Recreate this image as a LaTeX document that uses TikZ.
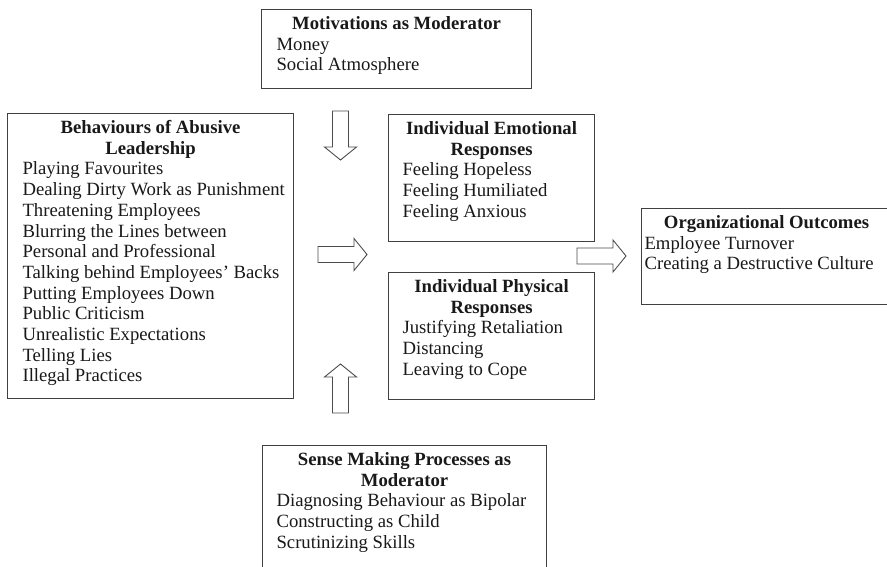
\documentclass[tikz,border=0pt]{standalone}
\usepackage{fontspec}
\setmainfont{Liberation Serif}
\usetikzlibrary{positioning}

\tikzset{
  box/.style={draw=black!75, line width=1.1pt, anchor=north west, inner ysep=4.5pt, text=black!90},
  fatarrow/.pic={
    \draw[draw=black!70, line width=0.9pt, fill=white]
      (0,-8) -- (36,-8) -- (36,-16) -- (49,0) -- (36,16) -- (36,8) -- (0,8) -- cycle;
  },
}
% [indent]{width}{height}{title}{items}
\newcommand{\boxbody}[5][0pt]{\parbox[t][#3][t]{#2}{\fontsize{18.7}{20.7}\selectfont
  {\centering\bfseries\rule{0pt}{15.5pt}#4\par}{\leftskip=#1 #5\par}}}

\begin{document}
\begin{tikzpicture}[x=1pt, y=-1pt]
  \useasboundingbox (0,0) rectangle (887,567);
  \clip (0,0) rectangle (887,567);
  \fill[white] (0,0) rectangle (887,567);

  % boxes
  \node[box, inner xsep=15pt] (motivation) at (261,9)
    {\boxbody{240pt}{70pt}{Motivations as Moderator}{Money\\Social Atmosphere}};
  \node[box, inner xsep=8pt] (abuse) at (7,113)
    {\boxbody[7pt]{270pt}{276pt}{Behaviours of Abusive\\Leadership}{Playing Favourites\\Dealing Dirty Work as Punishment\\Threatening Employees\\Blurring the Lines between\\Personal and Professional\\Talking behind Employees' Backs\\Putting Employees Down\\Public Criticism\\Unrealistic Expectations\\Telling Lies\\Illegal Practices}};
  \node[box, inner xsep=14pt] (emotional) at (388,114)
    {\boxbody{178pt}{118pt}{Individual Emotional\\Responses}{Feeling Hopeless\\Feeling Humiliated\\Feeling Anxious}};
  \node[box, inner xsep=14pt] (physical) at (388,272)
    {\boxbody{178pt}{118pt}{Individual Physical\\Responses}{Justifying Retaliation\\Distancing\\Leaving to Cope}};
  \node[box, inner xsep=3pt] (outcomes) at (641,208)
    {\boxbody{244pt}{87pt}{Organizational Outcomes}{Employee Turnover\\Creating a Destructive Culture}};
  \node[box, inner xsep=14pt] (sensemaking) at (262,445)
    {\boxbody{256pt}{126pt}{Sense Making Processes as\\Moderator}{Diagnosing Behaviour as Bipolar\\Constructing as Child\\Scrutinizing Skills}};

  % block arrows
  \pic[rotate=-90] at (340.5,111) {fatarrow};
  \pic at (318,254.5) {fatarrow};
  \pic[rotate=90] at (340.5,413) {fatarrow};
  \pic at (577,256) {fatarrow};
\end{tikzpicture}
\end{document}
